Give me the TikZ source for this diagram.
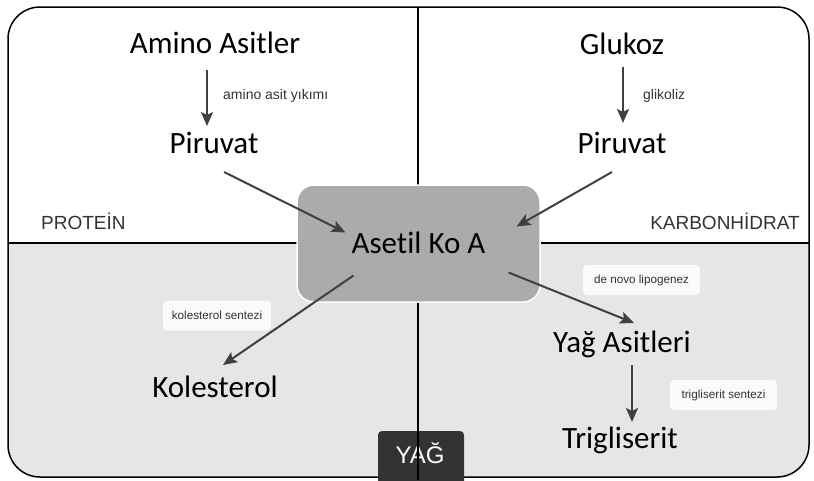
\documentclass[tikz,border=0pt]{standalone}
\usepackage{fontspec}
\setmainfont{Carlito}[Ligatures={NoCommon,NoContextual}]
\newfontfamily\lsans{Liberation Sans}
\usetikzlibrary{arrows.meta,calc}
\definecolor{lowgray}{HTML}{E6E6E6}
\definecolor{boxgray}{HTML}{ABABAB}
\definecolor{darkbox}{HTML}{333333}
\definecolor{arrowc}{HTML}{404040}
\definecolor{labc}{HTML}{333333}
\definecolor{tagfill}{HTML}{FAFAFA}
\begin{document}
\begin{tikzpicture}[x=1pt,y=-1pt,
  big/.style={font=\fontsize{31}{31}\selectfont, text=black, inner sep=0pt, anchor=base},
  sect/.style={font=\lsans\fontsize{19}{19}\selectfont, text=labc, inner sep=0pt},
  small/.style={font=\lsans\fontsize{14}{14}\selectfont, text=labc, inner sep=0pt, anchor=base west},
  tag/.style={font=\lsans\fontsize{11.7}{12}\selectfont, text=labc, fill=tagfill, rounded corners=4pt, inner sep=0pt, minimum height=30pt},
  arr/.style={draw=arrowc, line width=2pt, -{Stealth[length=14pt,width=12pt,inset=3pt]}},
  frameline/.style={draw=black, line width=1.5pt},
]
\useasboundingbox (0,0) rectangle (814,480);
% lower half background
\begin{scope}
  \clip[rounded corners=32pt] (8,7) rectangle (809,477);
  \fill[lowgray] (0,243) rectangle (814,480);
\end{scope}
\coordinate (hl) at (8,243);
\coordinate (hr) at (809,243);
\draw[frameline] (hl) -- (hr);
\draw[frameline, rounded corners=32pt] (8,7) rectangle (809,477);
% YAG box
\node[fill=darkbox, rounded corners=4pt, minimum width=86pt, minimum height=56pt, inner sep=0pt] (yagbox) at (421,459) {};
\node[font=\lsans\fontsize{24}{24}\selectfont, text=white, inner sep=0pt, anchor=base] (yagtxt) at (420,463) {YAĞ};
% vertical divider
\coordinate (vt) at (418,7);
\coordinate (vb) at (418,480);
\draw[frameline] (vt) -- (vb);
% central box
\node[fill=boxgray, draw=white, line width=1.5pt, rounded corners=17pt, minimum width=243pt, minimum height=117pt, inner sep=0pt, font=\fontsize{31}{31}\selectfont, text height=20pt, text depth=0pt] (aset) at (418.5,243.5) {Asetil Ko A};
% section labels
\node[sect, anchor=base west] (prot) at (41,229) {PROTEİN};
\node[sect, anchor=base east] (karb) at (800,229) {KARBONHİDRAT};
% main labels
\node[big] (amino) at (215,53) {Amino Asitler};
\node[big] (piru1) at (214,153) {Piruvat};
\node[big] (gluk) at (622,54) {Glukoz};
\node[big] (piru2) at (622,153) {Piruvat};
\node[big] (kol) at (215,397) {Kolesterol};
\node[big] (yag) at (622,352) {Yağ Asitleri};
\node[big] (trig) at (620,448) {Trigliserit};
% small labels
\node[small] (l1) at (223,99) {amino asit yıkımı};
\node[small] (l2) at (643,99) {glikoliz};
\node[tag, minimum width=108pt] (t1) at (217,315.5) {kolesterol sentezi};
\node[tag, minimum width=117pt] (t2) at (641.5,280) {de novo lipogenez};
\node[tag, minimum width=107pt] (t3) at (723.5,395) {trigliserit sentezi};
% arrows
\draw[arr] ($(amino.base)+(-8,17)$) -- ($(piru1.base)+(-7,-27)$);
\draw[arr] ($(gluk.base)+(1,13)$) -- ($(piru2.base)+(1,-30)$);
\draw[arr] ($(piru1.base)+(10,19)$) -- ($(aset.center)+(-73,-11)$);
\draw[arr] ($(piru2.base)+(-10,19)$) -- ($(aset.center)+(98,-17)$);
\draw[arr] ($(aset.center)+(-65,32)$) -- ($(kol.base)+(8,-32)$);
\draw[arr] ($(aset.center)+(90,29)$) -- ($(yag.base)+(12,-29)$);
\draw[arr] ($(yag.base)+(10,13)$) -- ($(trig.base)+(12,-26)$);
\end{tikzpicture}
\end{document}
